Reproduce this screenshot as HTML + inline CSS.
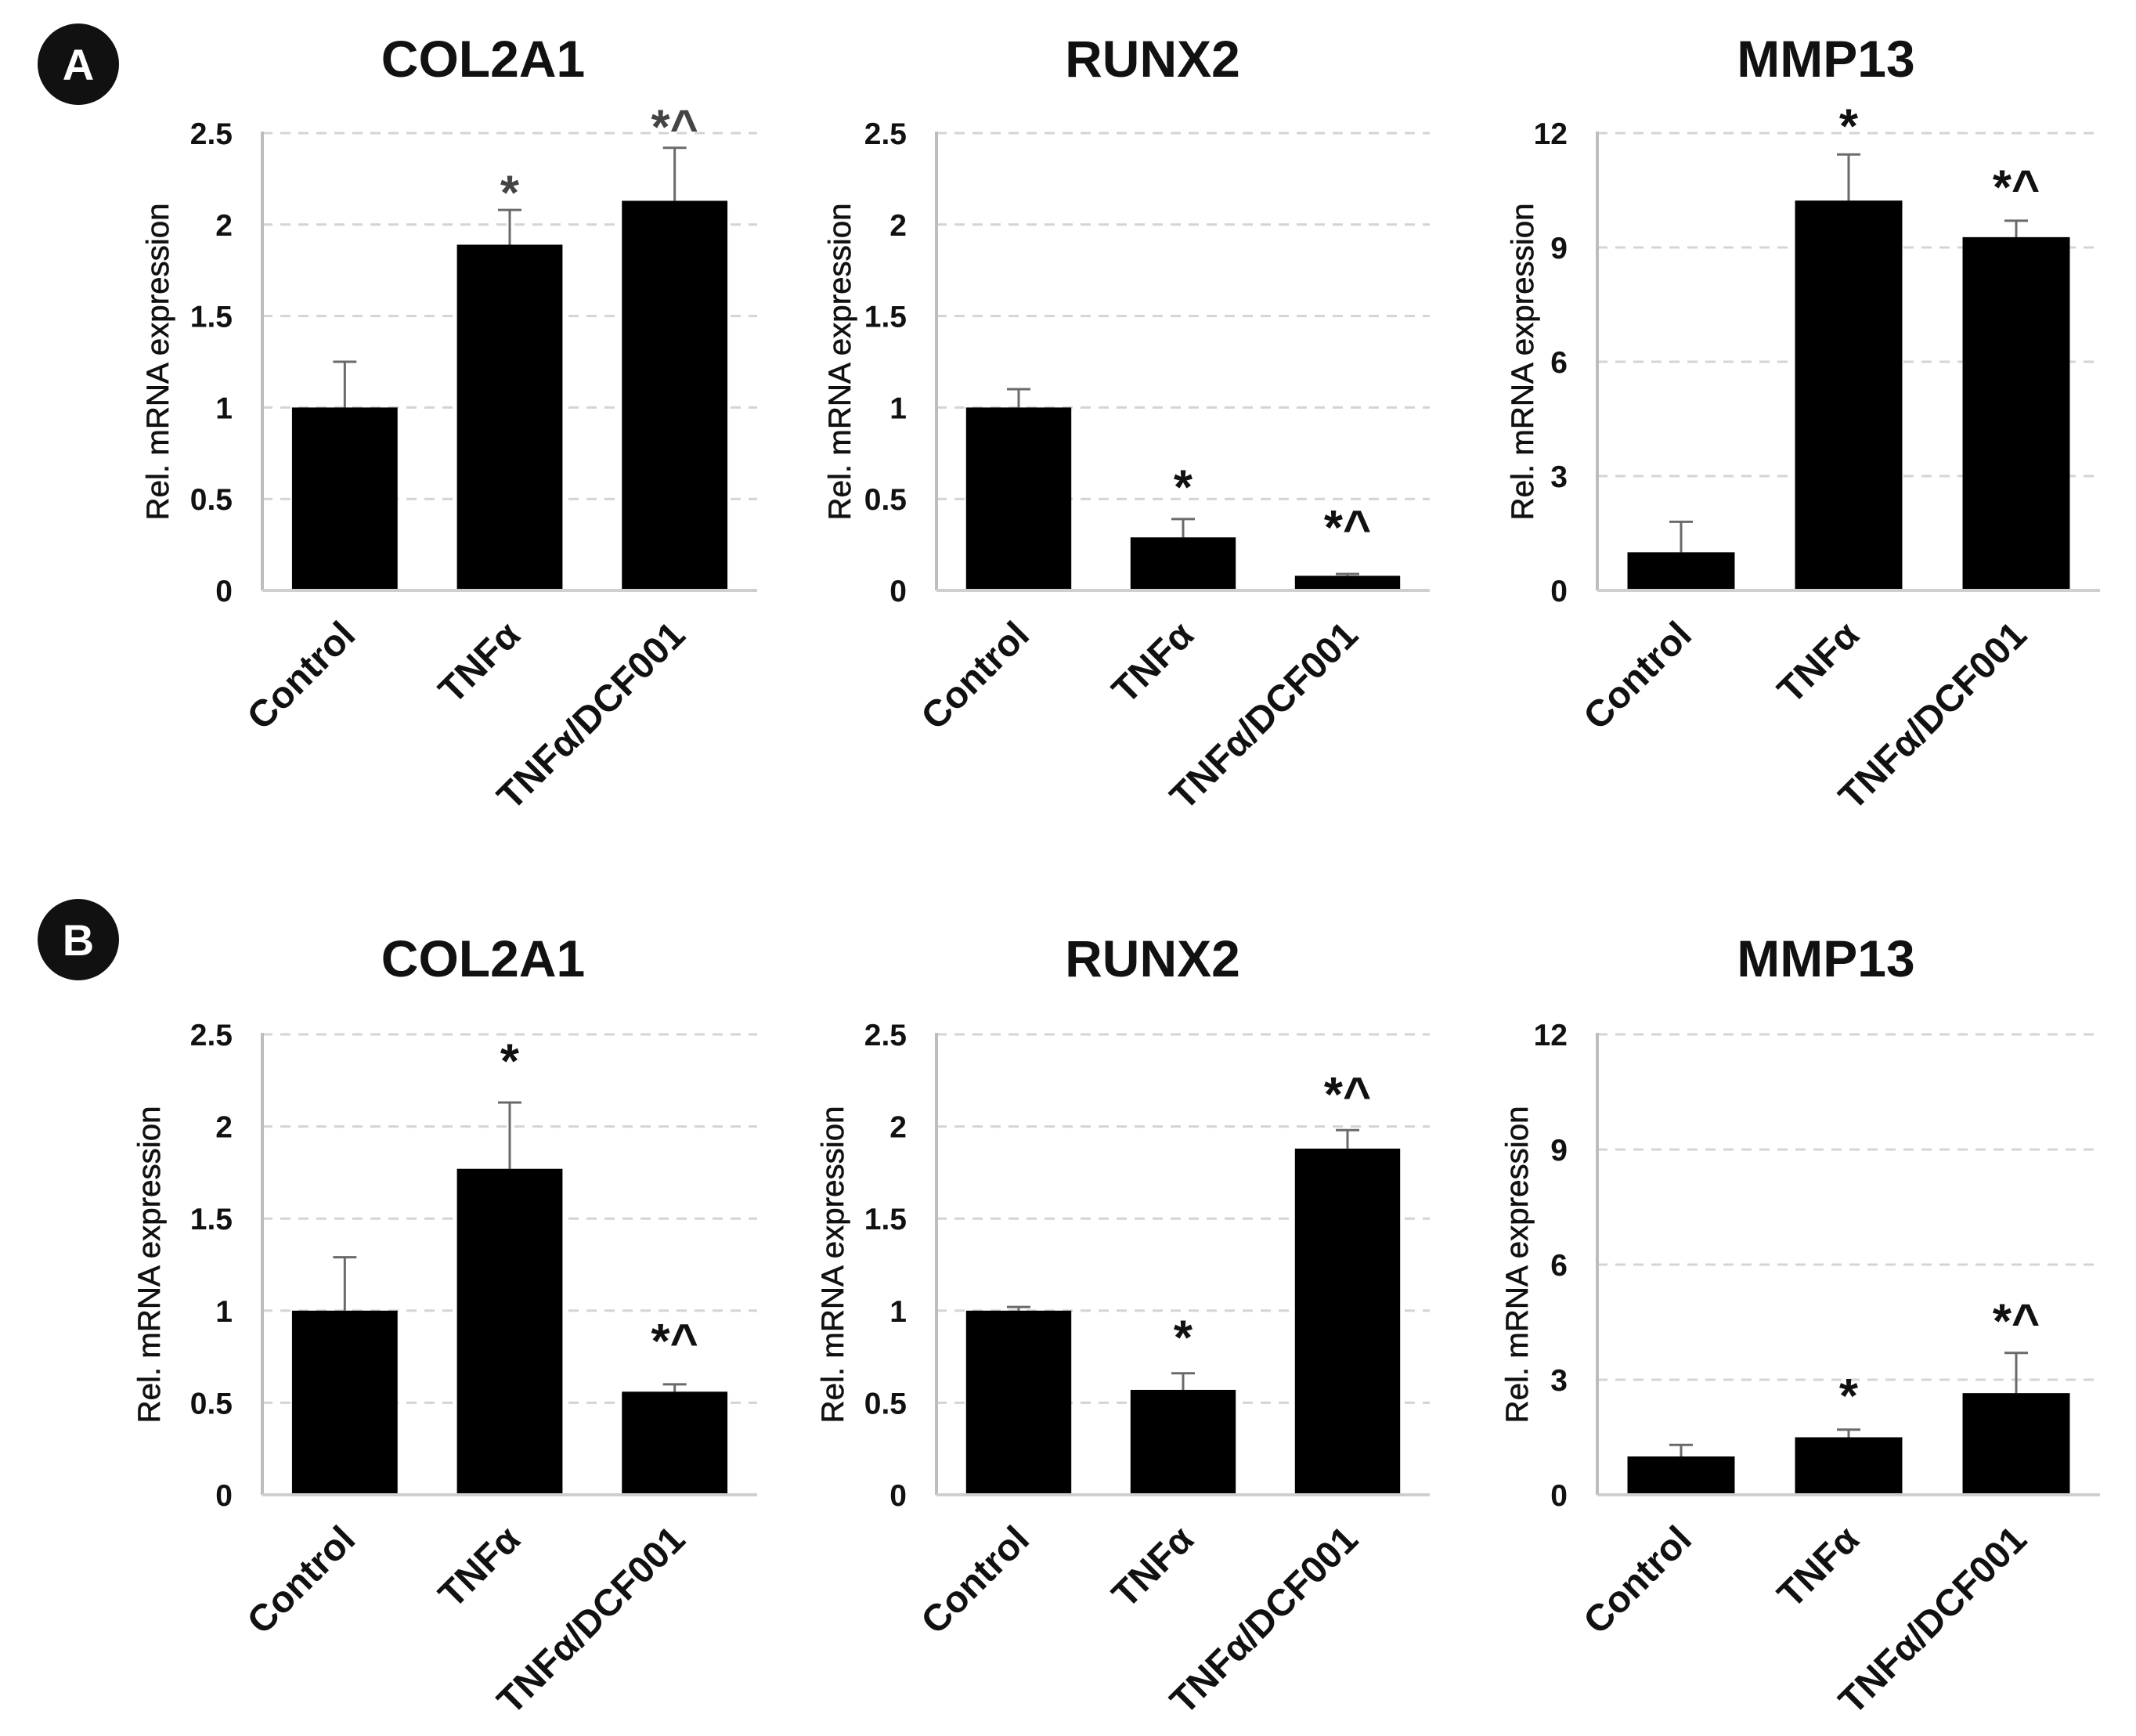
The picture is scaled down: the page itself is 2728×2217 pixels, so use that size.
<!DOCTYPE html>
<html><head><meta charset="utf-8">
<style>
html,body{margin:0;padding:0;background:#fff;}
svg{display:block;font-family:"Liberation Sans",Arial,sans-serif;}
</style></head>
<body>
<svg id="fig" width="2728" height="2217" viewBox="0 0 2728 2217" xmlns="http://www.w3.org/2000/svg">
<rect width="2728" height="2217" fill="#fff"/>
<g><circle cx="100" cy="82" r="52" fill="#111"/><text x="100" y="102" text-anchor="middle" font-size="56" font-weight="bold" fill="#fff">A</text></g>
<g><circle cx="100" cy="1200" r="52" fill="#111"/><text x="100" y="1220" text-anchor="middle" font-size="56" font-weight="bold" fill="#fff">B</text></g>
<g id="charts"></g>
</svg>
<script>
const categories = ["Control", "TNFα", "TNFα/DCF001"];
const genes = ["COL2A1", "RUNX2", "MMP13"];
const yMaxes = [2.5, 2.5, 12];
const yTickLabels = [["0","0.5","1","1.5","2","2.5"],["0","0.5","1","1.5","2","2.5"],["0","3","6","9","12"]];
const yTickValues = [[0,0.5,1,1.5,2,2.5],[0,0.5,1,1.5,2,2.5],[0,3,6,9,12]];
// Row A
const aValues = [[1.0,1.89,2.13],[1.0,0.29,0.08],[1.0,10.23,9.27]];
const aErrTops = [[1.25,2.08,2.42],[1.1,0.39,0.09],[1.8,11.44,9.7]];
const aMarks = [["","*","*^"],["","*","*^"],["","*","*^"]];
const aMarkLevels = [[0,2.22,2.58],[0,0.61,0.39],[0,12.4,10.8]];
// Row B
const bValues = [[1.0,1.77,0.56],[1.0,0.57,1.88],[1.0,1.5,2.65]];
const bErrTops = [[1.29,2.13,0.6],[1.02,0.66,1.98],[1.3,1.7,3.7]];
const bMarks = [["","*","*^"],["","*","*^"],["","*","*^"]];
const bMarkLevels = [[0,2.4,0.88],[0,0.9,2.22],[0,2.8,4.75]];

const NS = "http://www.w3.org/2000/svg";
const root = document.getElementById("charts");
const colX = [335, 1196, 2040];
const colW = [632, 630, 642];
const titleX = [617, 1472, 2332];
const ylabX = [[215,1086,1958],[204,1077,1951]];
const rowTop = [170, 1321];
const rowZero = [754, 1909];
const titleY = [98, 1247];
function mk(tag, attrs, parent){const e=document.createElementNS(NS,tag);for(const k in attrs)e.setAttribute(k,attrs[k]);parent.appendChild(e);return e;}

const rows = [
  {vals:aValues, errs:aErrTops, marks:aMarks, lv:aMarkLevels, key:"a"},
  {vals:bValues, errs:bErrTops, marks:bMarks, lv:bMarkLevels, key:"b"}
];
rows.forEach((row, r) => {
  genes.forEach((gene, c) => {
    const g = mk("g", {}, root);
    
    
    const x0 = colX[c], w = colW[c], top = rowTop[r], zero = rowZero[r], ymax = yMaxes[c];
    const y = v => zero - (v / ymax) * (zero - top);
    const band = w / categories.length, bw = band * 0.64;
    const xc = i => x0 + band * (i + 0.5);
    const t = mk("text", {x:titleX[c], y:titleY[r], "text-anchor":"middle", "font-size":66, "font-weight":"bold", fill:"#111"}, g);
    t.textContent = gene;
    
    
    yTickValues[c].forEach((tv, k) => {
      if (tv > 0) {
        const gl = mk("line", {x1:x0, x2:x0+w, y1:y(tv), y2:y(tv), stroke:"#d4d4d4", "stroke-width":3, "stroke-dasharray":"13 10"}, g);
        
        
      }
      const tl = mk("text", {x:x0-38, y:y(tv)+14, "text-anchor":"end", "font-size":39, "font-weight":"bold", fill:"#111"}, g);
      tl.textContent = yTickLabels[c][k];
      
      
    });
    const yl = mk("text", {x:0, y:0, "text-anchor":"middle", "font-size":40, fill:"#111", "stroke":"#111", "stroke-width":0.6, textLength:405, lengthAdjust:"spacingAndGlyphs", transform:"translate(" + ylabX[r][c] + "," + ((top+zero)/2) + ") rotate(-90)"}, g);
    yl.textContent = "Rel. mRNA expression";
    
    
    categories.forEach((cat, i) => {
      const v = row.vals[c][i], e = row.errs[c][i];
      const eb = mk("line", {x1:xc(i), x2:xc(i), y1:y(v), y2:y(e), stroke:"#6a6a6a", "stroke-width":3}, g);
      
      
      const cap = mk("line", {x1:xc(i)-15, x2:xc(i)+15, y1:y(e), y2:y(e), stroke:"#6a6a6a", "stroke-width":3}, g);
      
      
      const b = mk("rect", {x:xc(i)-bw/2, y:y(v), width:bw, height:zero-y(v), fill:"#000"}, g);
      
      
      if (row.marks[c][i]) {
        const m = mk("text", {x:xc(i), y:y(row.lv[c][i])+32, "text-anchor":"middle", "font-size":62, "font-weight":"bold", fill:(r===0&&c===0)?"#444":"#111"}, g);
        m.textContent = row.marks[c][i];
        
        
      }
      const xl = mk("text", {x:0, y:0, "text-anchor":"end", "font-size":48, "font-weight":"bold", fill:"#111", transform:"translate(" + (xc(i)+16) + "," + (zero+60) + ") rotate(-45)"}, g);
      xl.textContent = cat;
      
      
    });
    const ax = mk("line", {x1:x0, x2:x0, y1:top-2, y2:zero, stroke:"#bdbdbd", "stroke-width":4}, g);
    
    
    const bx = mk("line", {x1:x0, x2:x0+w, y1:zero, y2:zero, stroke:"#cfcfcf", "stroke-width":4}, g);
    
    
  });
});
</script>
</body></html>
